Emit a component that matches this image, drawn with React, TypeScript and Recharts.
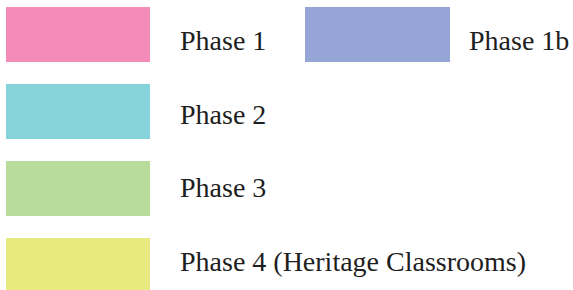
import React from "react";
import { BarChart, Bar, XAxis, YAxis, Legend } from "recharts";

const phaseNames = ["Phase 1", "Phase 1b", "Phase 2", "Phase 3", "Phase 4 (Heritage Classrooms)"];
const phaseKeys = ["p1", "p1b", "p2", "p3", "p4"];
const phaseColors = ["#F48CB9", "#95A5D6", "#87D3DB", "#B8DC9B", "#E8EA7F"];
const phaseValues = [0, 0, 0, 0, 0];

const data = [
  phaseKeys.reduce((acc: Record<string, number | string>, k, i) => {
    acc[k] = phaseValues[i];
    return acc;
  }, { name: "phases" } as Record<string, number | string>),
];

const LegendContent = () => {
  return (
    <svg width={573} height={290} style={{ display: "block" }}>
      {phaseNames.map((name, i) => {
        const col = i === 1 ? 1 : 0;
        const row = i === 0 || i === 1 ? 0 : i - 1;
        const sx = col === 0 ? 6 : 305;
        const sw = col === 0 ? 144 : 145;
        const sy = 7 + row * 77;
        const tx = col === 0 ? 180 : 469;
        const ty = 50 + row * 73.7;
        return (
          <g key={name}>
            <rect x={sx} y={sy} width={sw} height={55} fill={phaseColors[i]} />
            <text
              x={tx}
              y={ty}
              fontFamily="'Liberation Serif', 'Times New Roman', serif"
              fontSize={28}
              fill="#1e1e1e"
            >
              {name}
            </text>
          </g>
        );
      })}
    </svg>
  );
};

export default function App() {
  return (
    <div style={{ position: "absolute", left: 0, top: 0, width: 573, height: 290, background: "#fff" }}>
      <BarChart width={573} height={290} data={data} margin={{ top: 0, right: 0, bottom: 0, left: 0 }}>
        <XAxis dataKey="name" hide />
        <YAxis hide />
        {phaseKeys.map((k, i) => (
          <Bar key={k} dataKey={k} name={phaseNames[i]} fill={phaseColors[i]} isAnimationActive={false} />
        ))}
        <Legend
          content={<LegendContent />}
          wrapperStyle={{ position: "absolute", left: 0, top: 0, width: 573, height: 290 }}
        />
      </BarChart>
    </div>
  );
}
